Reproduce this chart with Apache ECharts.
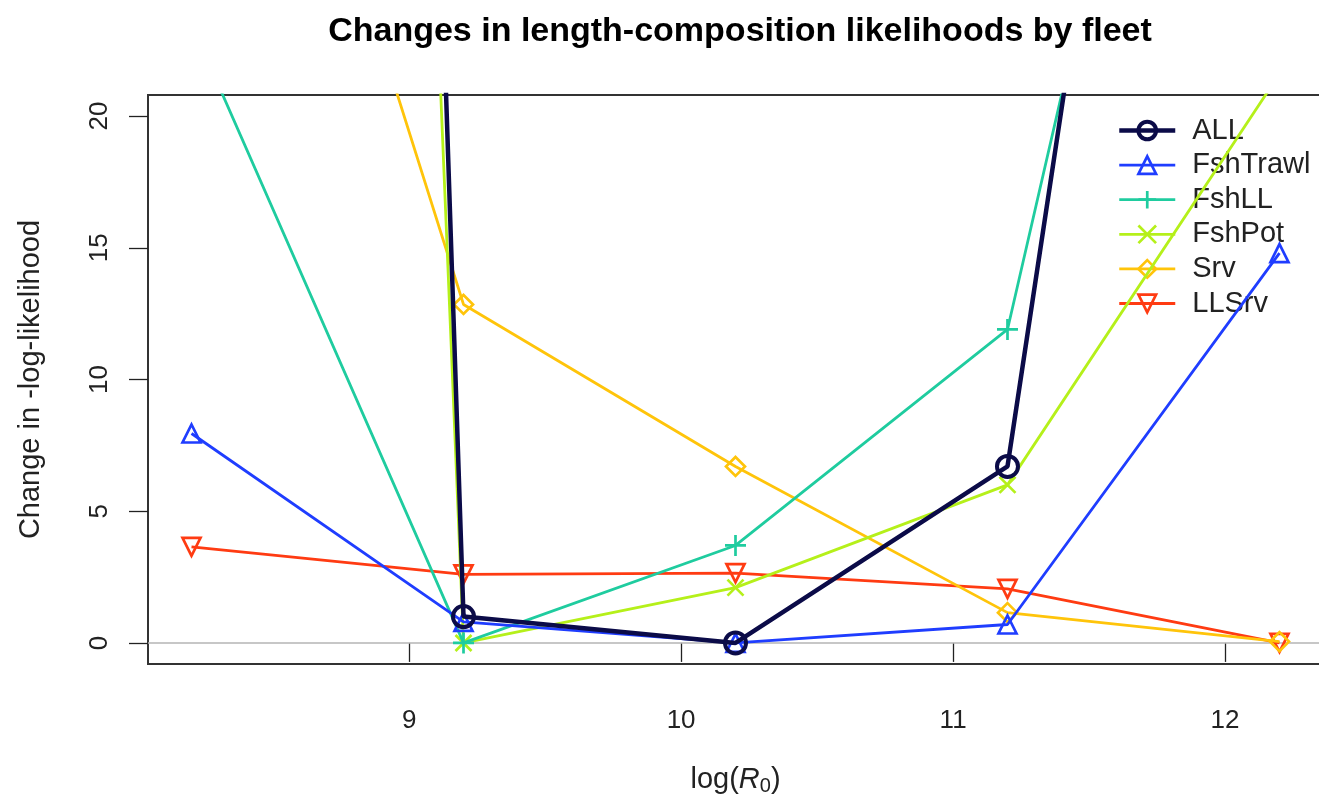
<!DOCTYPE html>
<html>
<head>
<meta charset="utf-8">
<script src="https://cdn.jsdelivr.net/npm/echarts@6/dist/echarts.min.js"></script>
<style>
html,body{margin:0;padding:0;background:#fff;}
#chart{width:1319px;height:797px;}
</style>
</head>
<body>
<div id="chart"></div>
<script>
// ---- data ----
const logR0 = [8.2, 9.2, 10.2, 11.2, 12.2];
const fleetNames = ['ALL', 'FshTrawl', 'FshLL', 'FshPot', 'Srv', 'LLSrv'];
const ALL      = [310, 1.0, 0.0, 6.7, 75];
const FshTrawl = [7.95, 0.8, 0.0, 0.7, 14.8];
const FshLL    = [23.5, 0.0, 3.7, 11.9, 56.7];
const FshPot   = [249, 0.0, 2.1, 6.0, 21.6];
const Srv      = [45.6, 12.85, 6.7, 1.15, 0.05];
const LLSrv    = [3.65, 2.6, 2.65, 2.05, 0.0];
const xTicks = [9, 10, 11, 12];
const yTicks = [0, 5, 10, 15, 20];

const values = [ALL, FshTrawl, FshLL, FshPot, Srv, LLSrv];
const colors = ['#0b0b48', '#1f3dff', '#1fcc9f', '#b5f01a', '#ffc40a', '#ff3b12'];
const symbols = [
  'circle',
  'triangle',
  'path://M10,0 L10,20 M0,10 L20,10',
  'path://M0,0 L20,20 M20,0 L0,20',
  'diamond',
  'triangle'
];
const symRot = [0, 0, 0, 0, 0, 180];
const symSize = [21, 18, 21, 16, 19, 18];
const lineW = [4.5, 2.8, 2.8, 2.8, 2.8, 2.8];
const symW = [4, 2.7, 2.7, 2.7, 2.7, 2.7];

const series = fleetNames.map((name, i) => ({
  name: name,
  type: 'line',
  data: logR0.map((x, j) => [x, values[i][j]]),
  symbol: symbols[i],
  symbolRotate: symRot[i],
  symbolSize: symSize[i],
  showAllSymbol: true,
  clip: true,
  z: 10 - i,
  lineStyle: { color: colors[i], width: lineW[i] },
  itemStyle: { color: 'rgba(0,0,0,0)', borderColor: colors[i], borderWidth: symW[i] },
  emphasis: { disabled: true },
  animation: false
}));

series.push({
  name: 'zero',
  type: 'line',
  data: [],
  silent: true,
  z: 1,
  markLine: {
    silent: true,
    symbol: 'none',
    label: { show: false },
    lineStyle: { color: '#b5b5b5', type: 'solid', width: 1.5 },
    data: [{ yAxis: 0 }],
    animation: false
  }
});

const chart = echarts.init(document.getElementById('chart'), null, { renderer: 'canvas' });
chart.setOption({
  animation: false,
  backgroundColor: '#ffffff',
  title: {
    text: 'Changes in length-composition likelihoods by fleet',
    left: 735, textAlign: 'center', top: 10,
    textStyle: { fontFamily: 'Liberation Sans', fontWeight: 'bold', fontSize: 34, color: '#000' }
  },
  legend: {
    data: fleetNames.map((n, i) => ({
      name: n,
      lineStyle: { color: colors[i], width: lineW[i] },
      itemStyle: { color: 'rgba(0,0,0,0)', borderColor: colors[i], borderWidth: symW[i] }
    })),
    orient: 'vertical',
    left: 1112, top: 111,
    itemWidth: 56, itemHeight: 22, itemGap: 5.6,
    lineStyle: { width: 2.8 },
    itemStyle: { borderWidth: 2.7 },
    textStyle: { fontFamily: 'Liberation Sans', fontSize: 29, lineHeight: 22, color: '#222', padding: [0, 0, 0, 12] },
    selectedMode: false
  },
  grid: {
    left: 148, right: -4, top: 95, bottom: 133,
    outerBoundsMode: 'none',
    containLabel: false,
    show: true, borderColor: '#333', borderWidth: 2, backgroundColor: 'transparent'
  },
  xAxis: {
    type: 'value', min: 8.04, max: 12.36,
    name: 'log({i|R}{s|0})',
    nameLocation: 'middle', nameGap: 100,
    nameTextStyle: {
      fontFamily: 'Liberation Sans', fontSize: 29, color: '#222',
      rich: {
        i: { fontFamily: 'Liberation Sans', fontStyle: 'italic', fontSize: 29, color: '#222' },
        s: { fontFamily: 'Liberation Sans', fontSize: 20, color: '#222', verticalAlign: 'bottom', padding: [12, 0, 0, 0] }
      }
    },
    axisLine: { show: false },
    splitLine: { show: false },
    axisTick: { show: true, inside: false, length: 19, lineStyle: { color: '#222', width: 1.3 }, customValues: xTicks },
    axisLabel: { show: true, margin: 44, fontFamily: 'Liberation Sans', fontSize: 26, color: '#222', customValues: xTicks,
      formatter: v => String(v) }
  },
  yAxis: {
    type: 'value', min: -0.8, max: 20.8,
    name: 'Change in -log-likelihood',
    nameLocation: 'middle', nameGap: 103, nameRotate: 90,
    nameTextStyle: { fontFamily: 'Liberation Sans', fontSize: 29, color: '#222' },
    axisLine: { show: false },
    splitLine: { show: false },
    axisTick: { show: true, inside: false, length: 19, lineStyle: { color: '#222', width: 1.3 }, customValues: yTicks },
    axisLabel: { show: true, rotate: 90, margin: 35, fontFamily: 'Liberation Sans', fontSize: 26, color: '#222', customValues: yTicks,
      formatter: v => String(v) }
  },
  series: series
});
</script>
</body>
</html>
